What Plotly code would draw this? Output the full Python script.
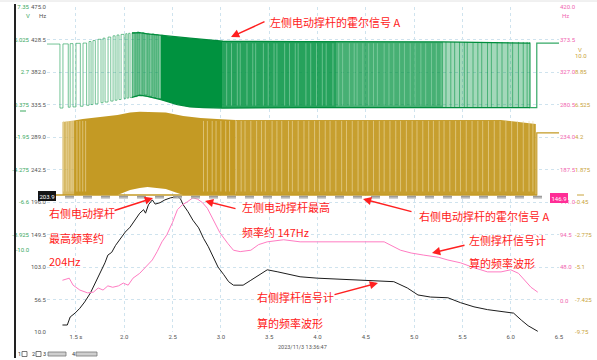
import plotly.graph_objects as go

# ---------------- data ----------------
x_tick_vals = [1.5, 2.0, 2.5, 3.0, 3.5, 4.0, 4.5, 5.0, 5.5, 6.0, 6.5]
x_tick_text = ["1.5 s", "2.0", "2.5", "3.0", "3.5", "4.0", "4.5", "5.0", "5.5", "6.0", "6.5"]

hz_left_vals = [10.0, 56.5, 103.0, 149.5, 196.0, 242.5, 289.0, 335.5, 382.0, 428.5, 475.0]
hz_left_text = ["10.0", "56.5", "103.0", "149.5", "196.0", "242.5", "289.0", "335.5", "382.0", "428.5", "475.0"]

v_green_vals = [-10.0, -8.925, -6.6, -4.275, -1.95, 0.375, 2.7, 5.025, 7.35]
v_green_text = ["-10.0", "-8.925", "-6.6", "-4.275", "-1.95", "0.375", "2.7", "5.025", "7.35"]

hz_right_vals = [0.0, 48.0, 94.5, 141.0, 187.5, 234.0, 280.5, 327.0, 373.5, 420.0]
hz_right_text = ["0.0", "48.0", "94.5", "141.0", "187.5", "234.0", "280.5", "327.0", "373.5", "420.0"]

v_gold_vals = [-9.75, -7.425, -5.1, -2.775, -0.45, 1.875, 4.2, 6.525, 8.85, 10.0]
v_gold_text = ["-9.75", "-7.425", "-5.1", "-2.775", "-0.45", "1.875", "4.2", "6.525", "8.85", "10.0"]

# right-side strut frequency (Hz, left axis)
black_t = [1.36, 1.41, 1.44, 1.49, 1.54, 1.59, 1.65, 1.70, 1.75, 1.80, 1.83, 1.87, 1.91, 1.96, 2.01,
           2.06, 2.11, 2.16, 2.20, 2.22, 2.25, 2.29, 2.32, 2.37, 2.42, 2.48, 2.53, 2.55, 2.58, 2.61,
           2.66, 2.71, 2.77, 2.82, 2.87, 2.92, 2.97, 3.03, 3.08, 3.13, 3.23, 3.31, 3.39, 3.48, 3.59,
           3.69, 3.82, 4.00, 4.17, 4.34, 4.52, 4.65, 4.79, 4.93, 5.04, 5.17, 5.35, 5.48, 5.62, 5.76,
           5.90, 6.03, 6.11, 6.18, 6.28]
black_hz = [20, 20, 31.5, 37, 44, 53, 66, 80, 94, 109, 120, 124, 134, 144, 153,
            160, 170, 180, 185, 180, 192, 199, 193, 195, 199, 202, 203, 204, 201, 192,
            182, 170, 159, 144, 132, 117, 103, 92, 82, 77, 77, 84, 91, 99, 96,
            93, 89, 87, 86, 84, 83, 83, 82, 73, 63, 60, 59, 52, 46, 42,
            39, 37, 27, 19, 11]

# left-side strut frequency (Hz, right pink axis)
pink_t = [1.36, 1.41, 1.43, 1.47, 1.54, 1.62, 1.68, 1.73, 1.78, 1.83, 1.88, 1.94, 1.99, 2.04, 2.09,
          2.16, 2.24, 2.29, 2.34, 2.39, 2.44, 2.50, 2.55, 2.60, 2.65, 2.71, 2.76, 2.81, 2.86, 2.92,
          2.99, 3.07, 3.13, 3.20, 3.31, 3.39, 3.48, 3.65, 3.82, 4.00, 4.17, 4.34, 4.52, 4.69, 4.86,
          4.97, 5.10, 5.25, 5.35, 5.48, 5.62, 5.76, 5.90, 6.00, 6.08, 6.14, 6.21, 6.28]
pink_hz = [29, 31, 32, 22, 15, 11, 12, 18, 15, 21, 19, 21, 25, 22, 32,
           39, 51, 58, 70, 84, 94, 112, 130, 137, 141, 147, 145, 140, 132, 115,
           97, 82, 72, 70, 72, 80, 84, 87, 84, 84, 84, 84, 83, 84, 72,
           68, 65, 62, 58, 54, 47, 41, 41, 44, 39, 29, 19, 12]

# left Hall signal A (V, green axis): visible individual edges (sparse part)
green_step_t = [1.20, 1.334, 1.365, 1.420, 1.440, 1.469, 1.500, 1.545, 1.573, 1.610, 1.635, 1.656,
                1.676, 1.700, 1.728, 1.759, 1.780, 1.801, 1.832, 1.860, 1.884, 1.905, 1.925,
                1.945, 1.967, 1.998, 2.015, 2.029, 2.045, 2.060, 2.081, 2.112, 2.133, 2.154,
                2.185, 2.205, 2.237, 2.257, 2.288, 2.309, 2.330, 2.351, 2.382, 2.402]
green_step_v = [4.70, 0.12, 4.71, 0.18, 4.73, 0.20, 4.75, 0.25, 4.77, 0.32, 4.88, 0.37,
                4.95, 0.42, 5.04, 0.50, 5.12, 0.55, 5.20, 0.62, 5.29, 0.68, 5.35,
                0.73, 5.39, 0.79, 5.44, 0.83, 5.47, 0.87, 5.50, 0.94, 5.56, 0.99,
                5.51, 1.05, 5.46, 0.96, 5.42, 0.87, 5.38, 0.80, 5.33, 0.70]
# dense part: high / low envelopes
green_env_t = [2.08, 2.16, 2.24, 2.38, 2.55, 2.68, 2.82, 2.96, 3.02, 3.82, 4.20, 5.30, 6.20]
green_env_hi = [5.49, 5.51, 5.43, 5.32, 5.20, 5.13, 5.03, 4.92, 4.90, 4.87, 4.87, 4.85, 4.77]
green_env_lo = [0.89, 1.04, 0.95, 0.72, 0.37, 0.20, 0.16, 0.12, 0.12, 0.15, 0.15, 0.15, 0.15]
# lighter stripes inside the dense green part, and darker edges in its pale tail
green_stripe_t = [3.06, 3.11, 3.17, 3.20, 3.27, 3.33, 3.36, 3.44, 3.49, 3.55, 3.58, 3.66, 3.71,
                  3.77, 3.80, 3.88, 3.93, 3.99, 4.05, 4.09, 4.16, 4.22, 4.26, 4.33, 4.38, 4.41,
                  4.47, 4.53, 4.58, 4.62, 4.69, 4.74, 4.79, 4.85, 4.90, 4.96, 5.01, 5.07, 5.12,
                  5.18, 5.23, 5.28]
green_edge_t = [5.33, 5.38, 5.42, 5.47, 5.52, 5.55, 5.61, 5.66, 5.70, 5.76, 5.80, 5.86, 5.91,
                5.97, 6.02, 6.08, 6.13, 6.17]
green_tail_t = [6.19, 6.20, 6.27, 6.50]
green_tail_v = [4.77, 0.15, 4.77, 4.77]

# right Hall signal A (V, gold axis)
gold_env_t = [1.36, 1.48, 1.57, 1.93, 2.06, 2.16, 2.24, 2.43, 2.61, 2.79, 2.96, 3.15, 3.82, 5.00, 5.90, 6.26]
gold_env_hi = [5.27, 5.38, 5.49, 5.77, 5.95, 6.00, 6.00, 5.95, 5.70, 5.56, 5.49, 5.42, 5.42, 5.42, 5.42, 5.13]
gold_env_lo = [0.05, 0.05, 0.05, 0.05, 0.41, 0.55, 0.62, 0.48, 0.05, 0.05, 0.05, 0.05, 0.05, 0.05, 0.05, 0.05]
gold_stripe_t = [1.37, 1.40, 1.42, 1.45, 1.47, 1.51, 1.54, 1.57, 1.60,
                 2.82, 2.86, 2.91, 2.95, 3.00, 3.05, 3.09, 3.16, 3.21, 3.25, 3.31, 3.37, 3.42,
                 3.46, 3.53, 3.58, 3.63, 3.70, 3.74, 3.80, 3.86, 3.91, 3.97, 4.02, 4.08, 4.13,
                 4.19, 4.25, 4.30, 4.36, 4.42, 4.47, 4.52, 4.58, 4.64, 4.69, 4.75, 4.81, 4.86,
                 4.92, 4.98, 5.03, 5.09, 5.15, 5.20, 5.26, 5.31, 5.37, 5.43, 5.48, 5.54, 5.60,
                 5.66, 5.71, 5.77, 5.83, 5.89, 5.95, 6.01, 6.07, 6.13, 6.19, 6.23]
gold_base_t = [1.20, 6.27]
gold_base_v = [0.05, 0.05]
gold_tail_t = [6.26, 6.27, 6.50]
gold_tail_v = [0.05, 4.49, 4.49]

# cursor / maximum markers
black_max_marker = 203.9
pink_max_marker = 146.9

timestamp = "2023/11/3 13:36:47"
notes = ["左侧电动撑杆的霍尔信号 A", "右侧电动撑杆", "最高频率约", "204Hz",
         "左侧电动撑杆最高", "频率约 147Hz", "右侧电动撑杆的霍尔信号 A",
         "左侧撑杆信号计", "算的频率波形", "右侧撑杆信号计", "算的频率波形"]

# ---------------- layout helpers ----------------
W, H = 597, 360
PT, PB = 7, 332
PL, PR = 47, 559


def px(x):
    return x / W


def py(y):
    return (PB - y) / (PB - PT)


GREEN = (0, 146, 63)
GOLD = (196, 154, 36)
PINK = '#ff7cc2'
RED = '#ff2020'
GRID = '#cfe3ee'

fig = go.Figure()


def band(env_t, hi, lo, a, b, rgb, alpha, yaxis):
    idx = [i for i, t in enumerate(env_t) if a - 1e-9 <= t <= b + 1e-9]
    xs = [env_t[i] for i in idx] + [env_t[i] for i in reversed(idx)]
    ys = [hi[i] for i in idx] + [lo[i] for i in reversed(idx)]
    fig.add_trace(go.Scatter(x=xs, y=ys, yaxis=yaxis, mode='lines', fill='toself',
                             fillcolor='rgba(%d,%d,%d,%.2f)' % (rgb + (alpha,)),
                             line=dict(width=0), hoverinfo='skip', showlegend=False))


def vlines(ts, y0, y1, color, width, yaxis):
    xs, ys = [], []
    for t in ts:
        xs += [t, t, None]
        ys += [y0, y1, None]
    fig.add_trace(go.Scatter(x=xs, y=ys, yaxis=yaxis, mode='lines', connectgaps=False,
                             line=dict(color=color, width=width), hoverinfo='skip', showlegend=False))


# black frequency line (left Hz axis)
fig.add_trace(go.Scatter(x=black_t, y=black_hz, yaxis='y', mode='lines',
                         line=dict(color='#1c1c1c', width=1), hoverinfo='skip', showlegend=False))

# green Hall signal
for a, b, al in [(2.08, 2.38, 0.5), (2.38, 3.02, 1.0), (3.02, 4.20, 0.85), (4.20, 5.30, 0.72), (5.30, 6.20, 0.36)]:
    band(green_env_t, green_env_hi, green_env_lo, a, b, GREEN, al, 'y2')
vlines(green_stripe_t, 0.3, 4.75, 'rgba(170,225,192,0.5)', 1, 'y2')
vlines(green_edge_t, 0.15, 4.85, 'rgba(0,146,63,0.55)', 1, 'y2')
fig.add_trace(go.Scatter(x=green_step_t, y=green_step_v, yaxis='y2', mode='lines', line_shape='hv',
                         line=dict(color='rgba(0,146,63,0.55)', width=1), hoverinfo='skip', showlegend=False))
for env in (green_env_hi, green_env_lo):
    fig.add_trace(go.Scatter(x=green_env_t, y=env, yaxis='y2', mode='lines',
                             line=dict(color='rgb(0,140,60)', width=1.3), hoverinfo='skip', showlegend=False))
fig.add_trace(go.Scatter(x=green_tail_t, y=green_tail_v, yaxis='y2', mode='lines', line_shape='hv',
                         line=dict(color='rgba(0,146,63,0.8)', width=1.2), hoverinfo='skip', showlegend=False))

# pink frequency line
fig.add_trace(go.Scatter(x=pink_t, y=pink_hz, yaxis='y3', mode='lines',
                         line=dict(color=PINK, width=1), hoverinfo='skip', showlegend=False))

# gold Hall signal
for a, b, al in [(1.36, 1.48, 0.7), (1.48, 3.15, 1.0), (3.15, 6.26, 0.95)]:
    band(gold_env_t, gold_env_hi, gold_env_lo, a, b, GOLD, al, 'y4')
vlines(gold_stripe_t, 0.3, 5.35, 'rgba(236,218,165,0.62)', 1, 'y4')
fig.add_trace(go.Scatter(x=gold_base_t, y=gold_base_v, yaxis='y4', mode='lines',
                         line=dict(color='rgb(196,154,36)', width=1.5), hoverinfo='skip', showlegend=False))
fig.add_trace(go.Scatter(x=gold_tail_t, y=gold_tail_v, yaxis='y4', mode='lines', line_shape='hv',
                         line=dict(color='rgb(196,154,36)', width=1.2), hoverinfo='skip', showlegend=False))

tick_font = dict(family='Roboto', size=6)

fig.update_layout(
    template='none', width=W, height=H, showlegend=False,
    margin=dict(l=0, r=0, t=PT, b=H - PB, pad=0),
    paper_bgcolor='white', plot_bgcolor='white',
    xaxis=dict(domain=[PL / W, PR / W], range=[1.2, 6.5], tickvals=x_tick_vals, ticktext=x_tick_text,
               showgrid=True, gridcolor=GRID, griddash='dot', gridwidth=1, zeroline=False,
               showline=False, ticks='', tickfont=dict(tick_font, color='#555'), automargin=False),
    yaxis=dict(range=[10, 475], tickvals=hz_left_vals, ticktext=hz_left_text, showgrid=True,
               gridcolor=GRID, griddash='dot', gridwidth=1, zeroline=False, showline=False, ticks='',
               tickfont=dict(tick_font, color='#555'), automargin=False),
    yaxis2=dict(overlaying='y', anchor='free', position=29 / W, side='left', range=[-15.9, 7.35],
                tickvals=v_green_vals, ticktext=v_green_text, showgrid=False, zeroline=False,
                showline=False, ticks='', tickfont=dict(tick_font, color='#3aa95f'), automargin=False),
    yaxis3=dict(overlaying='y', anchor='x', side='right', range=[-45, 420],
                tickvals=hz_right_vals, ticktext=hz_right_text, showgrid=False, zeroline=False,
                showline=False, ticks='', tickfont=dict(tick_font, color='#f065b0'), automargin=False),
    yaxis4=dict(overlaying='y', anchor='free', position=574 / W, side='right', range=[-9.75, 13.5],
                tickvals=v_gold_vals, ticktext=v_gold_text, showgrid=False, zeroline=False,
                showline=False, ticks='', tickfont=dict(tick_font, color='#c9a43c'), automargin=False),
)

shapes = [
    dict(type='line', xref='paper', yref='y', x0=px(PL), x1=px(PR), y0=black_max_marker, y1=black_max_marker,
         line=dict(color='#9c9c9c', width=1.5, dash='dash')),
    dict(type='line', xref='paper', yref='y3', x0=px(PL), x1=px(PR), y0=pink_max_marker, y1=pink_max_marker,
         line=dict(color='#a8a8a8', width=1.2, dash='dash')),
    dict(type='line', xref='paper', yref='paper', x0=px(15), x1=px(15), y0=py(358), y1=py(4),
         line=dict(color='#222', width=2)),
    dict(type='line', xref='paper', yref='paper', x0=0, x1=1, y0=py(1), y1=py(1),
         line=dict(color='#e2e2e2', width=1)),
    dict(type='line', xref='paper', yref='paper', x0=px(20), x1=px(26), y0=py(111), y1=py(111),
         line=dict(color='#3aa95f', width=1)),
    dict(type='line', xref='paper', yref='paper', x0=px(577), x1=px(584), y0=py(195), y1=py(195),
         line=dict(color='#c9a43c', width=1)),
    dict(type='rect', xref='paper', yref='paper', x0=px(22), x1=px(27), y0=py(356.5), y1=py(351.5),
         line=dict(color='#555', width=0.8)),
    dict(type='rect', xref='paper', yref='paper', x0=px(36), x1=px(41), y0=py(356.5), y1=py(351.5),
         line=dict(color='#555', width=0.8)),
    dict(type='rect', xref='paper', yref='paper', x0=px(48), x1=px(66), y0=py(356), y1=py(352),
         line=dict(color='#777', width=0.8), fillcolor='#cfcfcf'),
    dict(type='rect', xref='paper', yref='paper', x0=px(76), x1=px(97), y0=py(356), y1=py(352),
         line=dict(color='#777', width=0.8), fillcolor='#cfcfcf'),
]
fig.update_layout(shapes=shapes)

ann = []


def txt(s, x, y, color, size, xanchor='left', family='Noto Sans CJK SC'):
    ann.append(dict(text=s, x=px(x), y=py(y), xref='paper', yref='paper', showarrow=False,
                    xanchor=xanchor, yanchor='middle', font=dict(color=color, size=size, family=family)))


txt("V", 28, 16, '#3aa95f', 6, 'center', 'Roboto')
txt("Hz", 42, 16, '#555', 6, 'center', 'Roboto')
txt("Hz", 560, 16, '#f065b0', 6, 'left', 'Roboto')
txt("V", 576, 49, '#c9a43c', 6, 'left', 'Roboto')
txt(timestamp, 302, 347, '#555', 5.5, 'center', 'Roboto')
for s, x in [("1", 19), ("2", 33), ("3", 45), ("4", 73)]:
    txt(s, x, 354, '#333', 5.5, 'center', 'Roboto')

note_pos = [(268, 22), (47, 213), (47, 238), (47, 261), (240, 207), (240, 232),
            (417, 216), (467, 240), (467, 263), (255, 297), (255, 323)]
for s, (x, y) in zip(notes, note_pos):
    txt(s, x, y, RED, 11)

arrows = [(266, 21, 231, 37), (113, 211, 153, 198), (237, 209, 205, 201),
          (413, 212, 363, 199), (466, 245, 432, 253), (333, 295, 378, 283)]
for tx, ty, hx, hy in arrows:
    ann.append(dict(text='', x=px(hx), y=py(hy), xref='paper', yref='paper', showarrow=True,
                    ax=tx - hx, ay=ty - hy, axref='pixel', ayref='pixel', arrowhead=2,
                    arrowsize=1.1, arrowwidth=1.5, arrowcolor=RED, standoff=0, startstandoff=0))

ann.append(dict(text="%.1f" % black_max_marker, x=px(38), y=black_max_marker, xref='paper', yref='y',
                showarrow=False, bgcolor='#151515', bordercolor='#151515', borderpad=0.5,
                font=dict(color='white', size=6, family='Roboto')))
ann.append(dict(text="%.1f" % pink_max_marker, x=px(568), y=pink_max_marker, xref='paper', yref='y3',
                showarrow=False, bgcolor='#ff2d96', bordercolor='#ff2d96', borderpad=0.5,
                font=dict(color='white', size=6, family='Roboto')))

fig.update_layout(annotations=ann)

fig.write_html("out.html", config={'displayModeBar': False},
               post_script="document.body.style.margin='0px';document.body.style.overflow='hidden';")
